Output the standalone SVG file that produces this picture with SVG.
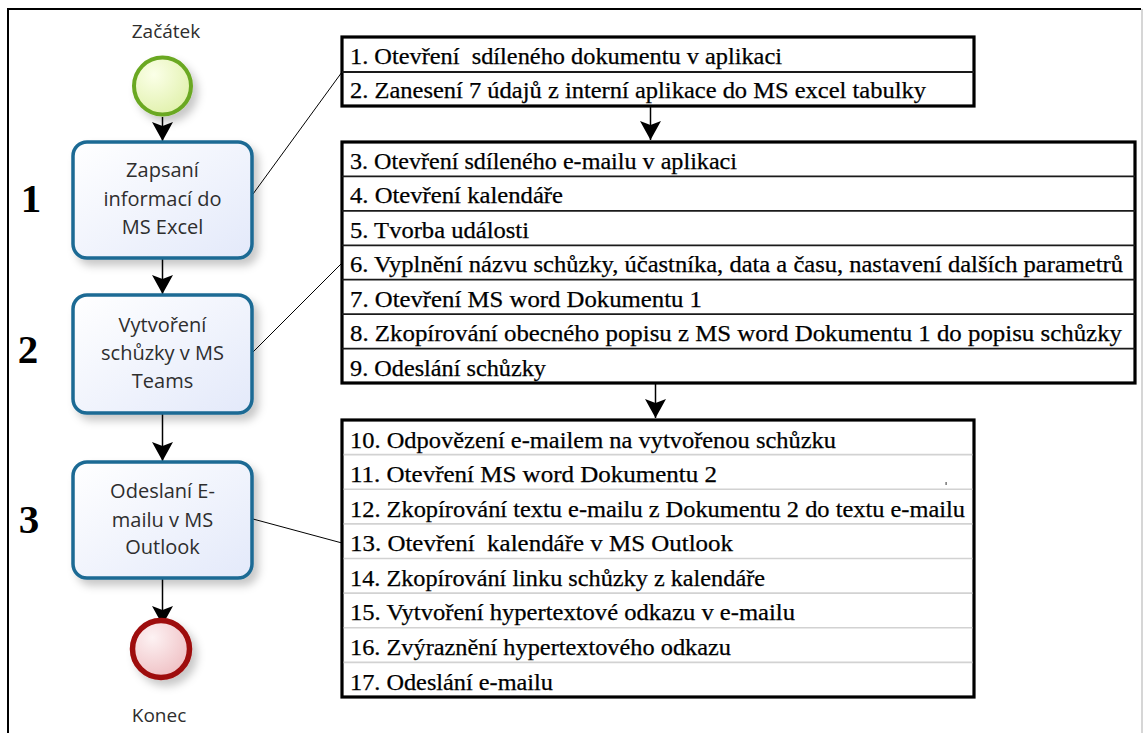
<svg xmlns="http://www.w3.org/2000/svg" width="1143" height="733" viewBox="0 0 1143 733">
<style>
.frame{stroke:#000;stroke-width:2;fill:none}
.task{fill:url(#taskGrad);stroke:#1b6a94;stroke-width:3.5}
.tlabel{font-family:"Open Sans","Noto Sans",sans-serif;font-size:20px;fill:#2e2e2e;text-anchor:middle}
.elabel{font-family:"Open Sans","Noto Sans",sans-serif;font-size:19px;fill:#2e2e2e;text-anchor:middle}
.num{font-family:"Liberation Serif","Times New Roman",serif;font-size:41px;font-weight:bold;fill:#000;text-anchor:middle}
.box{fill:#fff;stroke:#000;stroke-width:3.2}
.divd{stroke:#1a1a1a;stroke-width:1.8}
.divl{stroke:#d2d2d2;stroke-width:1.6}
.row{font-family:"Liberation Serif","Times New Roman",serif;font-size:23px;fill:#000;stroke:#000;stroke-width:0.25;white-space:pre}
.flow{stroke:#000;stroke-width:1.5;fill:none}
.assoc{stroke:#000;stroke-width:1;fill:none}
</style>
<defs>
<linearGradient id="taskGrad" x1="0" y1="0" x2="1" y2="1">
<stop offset="0" stop-color="#ffffff"/>
<stop offset="1" stop-color="#e3e9fa"/>
</linearGradient>
<radialGradient id="startGrad" cx="0.35" cy="0.3" r="0.8">
<stop offset="0" stop-color="#fbffe8"/>
<stop offset="1" stop-color="#dff0a8"/>
</radialGradient>
<radialGradient id="endGrad" cx="0.35" cy="0.3" r="0.8">
<stop offset="0" stop-color="#fdf2f3"/>
<stop offset="1" stop-color="#eebcc0"/>
</radialGradient>
<filter id="shadow" x="-20%" y="-20%" width="150%" height="150%">
<feDropShadow dx="5" dy="6" stdDeviation="4" flood-color="#000" flood-opacity="0.22"/>
</filter>
<marker id="arrow" viewBox="-20 -11 22 22" refX="0" refY="0" markerWidth="22" markerHeight="22" markerUnits="userSpaceOnUse" orient="auto">
<path d="M0,0 L-19,-10.5 L-15,0 L-19,10.5 Z" fill="#000"/>
</marker>
</defs>
<rect x="0" y="0" width="1143" height="733" fill="#fff"/>
<g id="frame">
<line class="frame" x1="8" y1="9" x2="1141" y2="9"/>
<line class="frame" x1="8" y1="8" x2="8" y2="733"/>
<line x1="1142" y1="9" x2="1142" y2="733" stroke="#c8c8c8" stroke-width="1.5"/>
</g>
<g id="lane-numbers">
<text class="num" x="31" y="212">1</text>
<text class="num" x="28" y="363">2</text>
<text class="num" x="29" y="533">3</text>
</g>
<g id="connectors">
<line class="flow" x1="162.5" y1="117" x2="162.5" y2="141" marker-end="url(#arrow)"/>
<line class="flow" x1="162.5" y1="258" x2="162.5" y2="294" marker-end="url(#arrow)"/>
<line class="flow" x1="162.5" y1="413" x2="162.5" y2="461" marker-end="url(#arrow)"/>
<line class="flow" x1="162.5" y1="578" x2="162.5" y2="625" marker-end="url(#arrow)"/>
<line class="flow" x1="650.5" y1="106" x2="650.5" y2="140" marker-end="url(#arrow)"/>
<line class="flow" x1="655.5" y1="383" x2="655.5" y2="418" marker-end="url(#arrow)"/>
<line class="assoc" x1="253" y1="194" x2="342" y2="72"/>
<line class="assoc" x1="253" y1="352" x2="342" y2="263"/>
<line class="assoc" x1="253" y1="519" x2="342" y2="543"/>
</g>
<g id="start">
<circle cx="162.5" cy="86" r="28.5" fill="url(#startGrad)" stroke="#6aa821" stroke-width="4" filter="url(#shadow)"/>
<text class="elabel" x="166" y="38">Začátek</text>
</g>
<g id="task1">
<rect class="task" x="73" y="142" width="179" height="116" rx="14" filter="url(#shadow)"/>
<text class="tlabel" x="162.5" y="177">Zapsaní</text>
<text class="tlabel" x="162.5" y="206">informací do</text>
<text class="tlabel" x="162.5" y="234">MS Excel</text>
</g>
<g id="task2">
<rect class="task" x="73" y="295" width="179" height="118" rx="14" filter="url(#shadow)"/>
<text class="tlabel" x="162.5" y="332">Vytvoření</text>
<text class="tlabel" x="162.5" y="360">schůzky v MS</text>
<text class="tlabel" x="162.5" y="388">Teams</text>
</g>
<g id="task3">
<rect class="task" x="73" y="462" width="179" height="116" rx="14" filter="url(#shadow)"/>
<text class="tlabel" x="162.5" y="498">Odeslaní E-</text>
<text class="tlabel" x="162.5" y="527">mailu v MS</text>
<text class="tlabel" x="162.5" y="554">Outlook</text>
</g>
<g id="end">
<circle cx="161" cy="649" r="28.5" fill="url(#endGrad)" stroke="#9e0a0a" stroke-width="5.5" filter="url(#shadow)"/>
<text class="elabel" x="159" y="722">Konec</text>
</g>
<g id="steps-1-2">
<rect class="box" x="342" y="37" width="632" height="69"/>
<line class="divd" x1="342" y1="72" x2="974" y2="72"/>
<text class="row" x="350" y="63.5" textLength="432" lengthAdjust="spacingAndGlyphs" xml:space="preserve">1. Otevření  sdíleného dokumentu v aplikaci</text>
<text class="row" x="350" y="97.5" textLength="576" lengthAdjust="spacingAndGlyphs">2. Zanesení 7 údajů z interní aplikace do MS excel tabulky</text>
</g>
<g id="steps-3-9">
<rect class="box" x="342" y="142" width="793" height="241"/>
<line class="divd" x1="342" y1="176.4" x2="1135" y2="176.4"/>
<line class="divd" x1="342" y1="210.9" x2="1135" y2="210.9"/>
<line class="divd" x1="342" y1="245.3" x2="1135" y2="245.3"/>
<line class="divd" x1="342" y1="279.7" x2="1135" y2="279.7"/>
<line class="divd" x1="342" y1="314.1" x2="1135" y2="314.1"/>
<line class="divd" x1="342" y1="348.6" x2="1135" y2="348.6"/>
<text class="row" x="350" y="169" textLength="387" lengthAdjust="spacingAndGlyphs">3. Otevření sdíleného e-mailu v aplikaci</text>
<text class="row" x="350" y="203.4" textLength="213" lengthAdjust="spacingAndGlyphs">4. Otevření kalendáře</text>
<text class="row" x="350" y="237.9" textLength="179" lengthAdjust="spacingAndGlyphs">5. Tvorba události</text>
<text class="row" x="350" y="272.3" textLength="773" lengthAdjust="spacingAndGlyphs">6. Vyplnění názvu schůzky, účastníka, data a času, nastavení dalších parametrů</text>
<text class="row" x="350" y="306.7" textLength="352" lengthAdjust="spacingAndGlyphs">7. Otevření MS word Dokumentu 1</text>
<text class="row" x="350" y="341.1" textLength="772" lengthAdjust="spacingAndGlyphs">8. Zkopírování obecného popisu z MS word Dokumentu 1 do popisu schůzky</text>
<text class="row" x="350" y="375.6" textLength="196" lengthAdjust="spacingAndGlyphs">9. Odeslání schůzky</text>
</g>
<g id="steps-10-17">
<rect class="box" x="342" y="420" width="632" height="277"/>
<line class="divl" x1="343.6" y1="454.6" x2="972.4" y2="454.6"/>
<line class="divl" x1="343.6" y1="489.3" x2="972.4" y2="489.3"/>
<line class="divl" x1="343.6" y1="523.9" x2="972.4" y2="523.9"/>
<line class="divl" x1="343.6" y1="558.5" x2="972.4" y2="558.5"/>
<line class="divl" x1="343.6" y1="593.1" x2="972.4" y2="593.1"/>
<line class="divl" x1="343.6" y1="627.8" x2="972.4" y2="627.8"/>
<line class="divl" x1="343.6" y1="662.4" x2="972.4" y2="662.4"/>
<rect x="945.5" y="482" width="1.2" height="3" fill="#555"/>
<text class="row" x="350" y="447.5" textLength="486" lengthAdjust="spacingAndGlyphs">10. Odpovězení e-mailem na vytvořenou schůzku</text>
<text class="row" x="350" y="482" textLength="367" lengthAdjust="spacingAndGlyphs">11. Otevření MS word Dokumentu 2</text>
<text class="row" x="350" y="516.6" textLength="615" lengthAdjust="spacingAndGlyphs">12. Zkopírování textu e-mailu z Dokumentu 2 do textu e-mailu</text>
<text class="row" x="350" y="551.2" textLength="383" lengthAdjust="spacingAndGlyphs" xml:space="preserve">13. Otevření  kalendáře v MS Outlook</text>
<text class="row" x="350" y="585.8" textLength="415" lengthAdjust="spacingAndGlyphs">14. Zkopírování linku schůzky z kalendáře</text>
<text class="row" x="350" y="620.4" textLength="445" lengthAdjust="spacingAndGlyphs">15. Vytvoření hypertextové odkazu v e-mailu</text>
<text class="row" x="350" y="655.1" textLength="381" lengthAdjust="spacingAndGlyphs">16. Zvýraznění hypertextového odkazu</text>
<text class="row" x="350" y="689.7" textLength="203" lengthAdjust="spacingAndGlyphs">17. Odeslání e-mailu</text>
</g>
</svg>
